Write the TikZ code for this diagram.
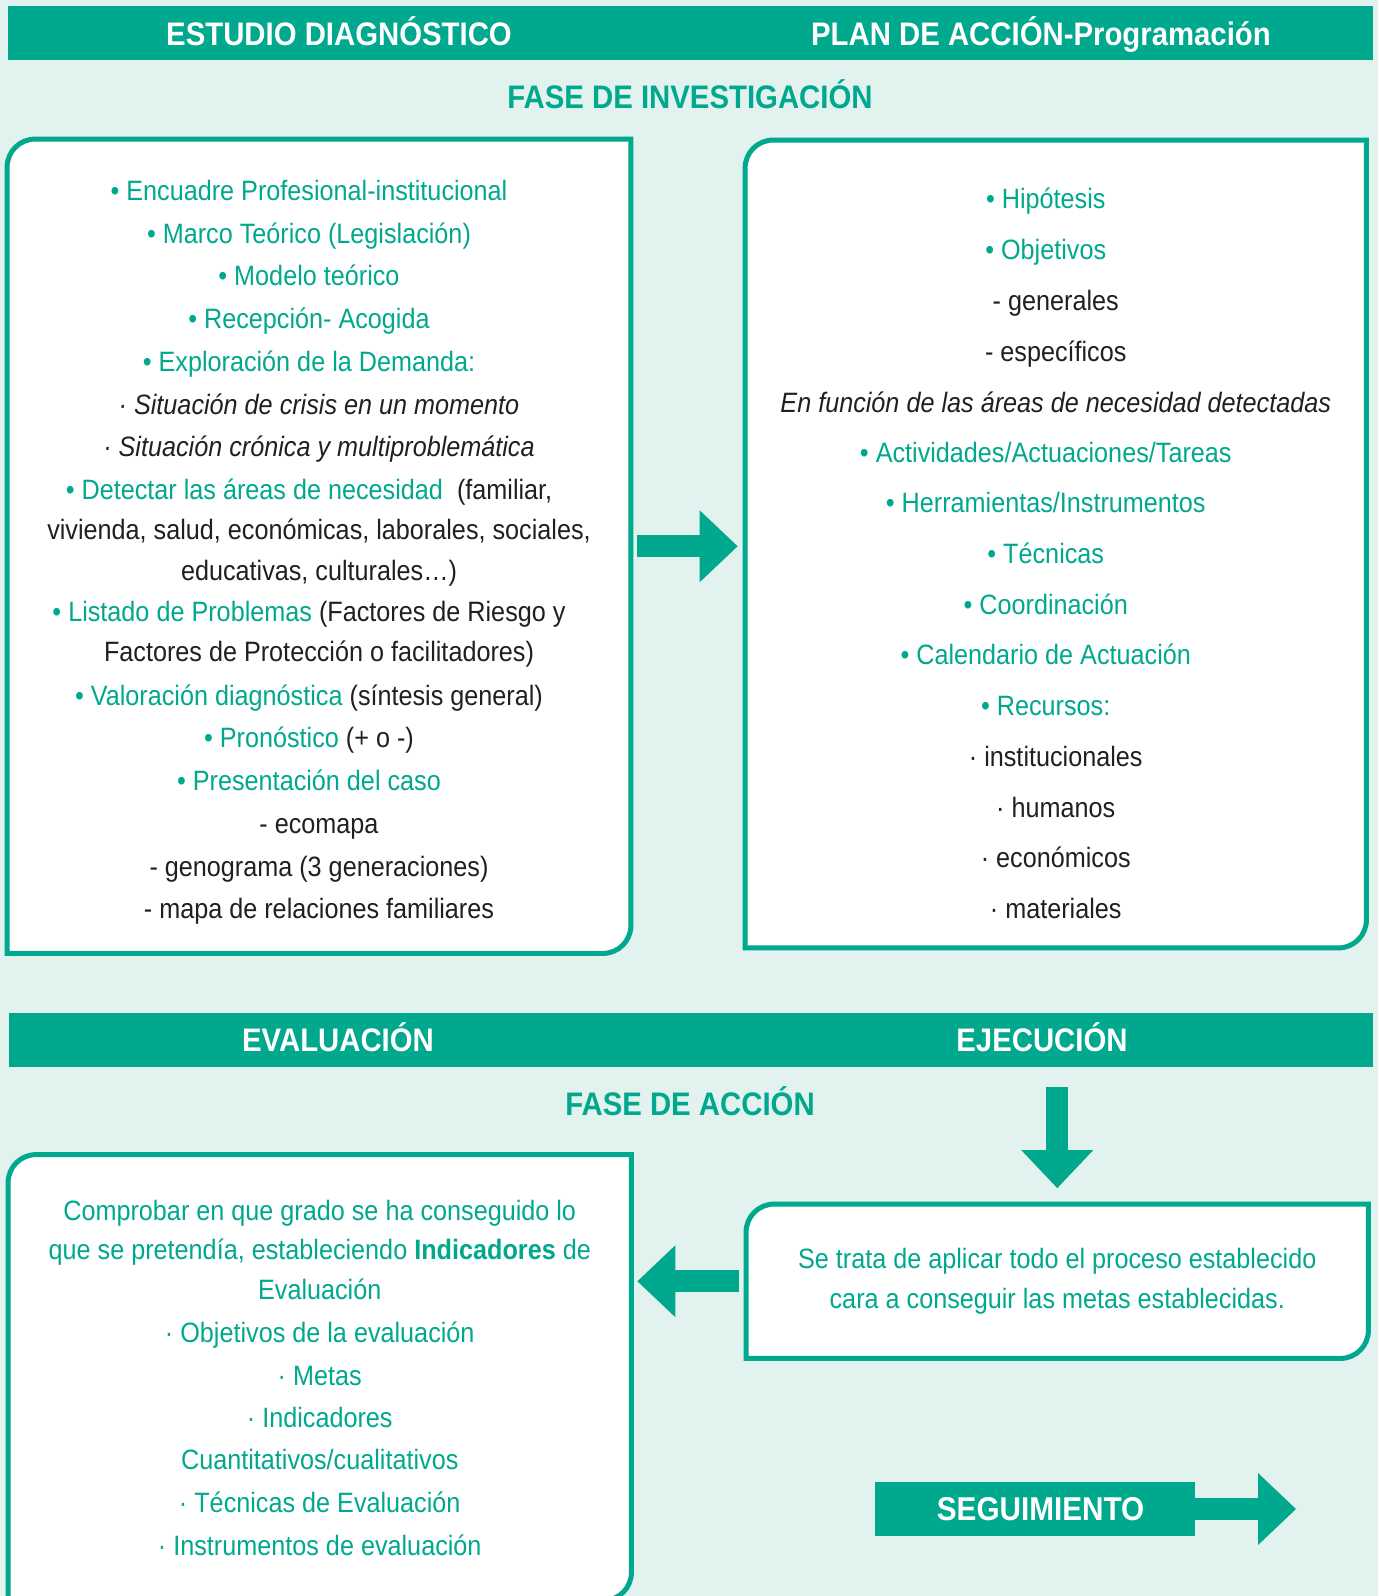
\documentclass[tikz,border=0pt]{standalone}
\usepackage{fontspec}
\setmainfont{Liberation Sans}[FakeStretch=0.9]
\usetikzlibrary{arrows.meta,calc,fit}

\definecolor{verde}{HTML}{00A88E}
\definecolor{fondo}{HTML}{E2F2EE}
\definecolor{tinta}{HTML}{231F20}

\newcommand{\vd}[1]{\textcolor{verde}{#1}}

\tikzset{
  bar/.style={fill=verde, inner sep=0pt},
  bartxt/.style={anchor=base, text=white, font=\fontsize{16.3}{19}\selectfont\bfseries},
  fase/.style={anchor=base, text=verde, font=\fontsize{16.3}{19}\selectfont\bfseries},
  area/.style={inner sep=0pt},
  frame/.style={draw=verde, line width=2.5pt, fill=white},
  txt/.style={anchor=base, inner sep=0pt, text=tinta, font=\fontsize{14}{17}\selectfont},
  bl/.style={xshift=-5pt},
  nb/.style={},
  fatarrow/.style={draw=verde, line width=11pt,
    -{Triangle[length=19pt 0 0, width=36pt 0 0, line width=0pt 0 0]}},
}

% marco con dos esquinas redondeadas
\newcommand{\marco}[1]{%
  \draw[frame] (#1.south west) -- ($(#1.north west)+(0,28)$)
    .. controls ($(#1.north west)+(0,12.5)$) and ($(#1.north west)+(12.5,0)$) .. ($(#1.north west)+(28,0)$)
    -- (#1.north east) -- ($(#1.south east)+(0,-28)$)
    .. controls ($(#1.south east)+(0,-12.5)$) and ($(#1.south east)+(-12.5,0)$) .. ($(#1.south east)+(-28,0)$)
    -- cycle;}

\begin{document}
\begin{tikzpicture}[x=0.5pt,y=-0.5pt]

  \fill[fondo] (0,0) rectangle (1378,1596);
  \useasboundingbox (0,0) rectangle (1378,1596);

  % barras de titulo
  \node[bar, fit={(8,6) (1373,60)}] (barra1) {};
  \node[bartxt] (diag) at (339,45.5) {ESTUDIO DIAGNÓSTICO};
  \node[bartxt] (prog) at (1041,45.5) {PLAN DE ACCIÓN-Programación};
  \node[fase] (fase1) at (690,108.5) {FASE DE INVESTIGACIÓN};

  \node[bar, fit={(9,1013) (1373,1067)}] (barra2) {};
  \node[bartxt] (evaltit) at (338,1051.5) {EVALUACIÓN};
  \node[bartxt] (ejectit) at (1042,1051.5) {EJECUCIÓN};
  \node[fase] (fase2) at (690,1115) {FASE DE ACCIÓN};

  % cajas
  \node[area, fit={(7.5,139.5) (630.5,953)}] (estudio) {};
  \node[area, fit={(745.5,140.5) (1366,947.5)}] (plan) {};
  \node[area, fit={(746.5,1204.5) (1368,1358)}] (ejecucion) {};
  \node[area, fit={(8.5,1155) (631,1600)}] (evaluacion) {};
  \marco{estudio}
  \marco{plan}
  \marco{ejecucion}
  \marco{evaluacion}

  \foreach \y/\s/\linea [count=\i] in {
    200.3/bl/{\vd{• Encuadre Profesional-institucional}},
    243/bl/{\vd{• Marco Teórico (Legislación)}},
    285.8/bl/{\vd{• Modelo teórico}},
    328.5/bl/{\vd{• Recepción- Acogida}},
    371.3/bl/{\vd{• Exploración de la Demanda:}},
    414/nb/{\textit{· Situación de crisis en un momento}},
    456.8/nb/{\textit{· Situación crónica y multiproblemática}},
    499.5/bl/{\vd{• Detectar las áreas de necesidad}\ \ (familiar,},
    539.2/nb/{vivienda, salud, económicas, laborales, sociales,},
    580/nb/{educativas, culturales…)},
    621.6/bl/{\vd{• Listado de Problemas} (Factores de Riesgo y},
    661.3/nb/{Factores de Protección o facilitadores)},
    705/bl/{\vd{• Valoración diagnóstica} (síntesis general)},
    747.8/bl/{\vd{• Pronóstico} (+ o -)},
    790.6/bl/{\vd{• Presentación del caso}},
    833.3/nb/{- ecomapa},
    876/nb/{- genograma (3 generaciones)},
    918.8/nb/{- mapa de relaciones familiares}}
    \node[txt,\s] (est\i) at (estudio.center |- 0,\y) {\linea};

  \foreach \y/\s/\linea [count=\i] in {
    208.5/bl/{\vd{• Hipótesis}},
    259.3/bl/{\vd{• Objetivos}},
    310.2/nb/{- generales},
    361.1/nb/{- específicos},
    412/nb/{\textit{En función de las áreas de necesidad detectadas}},
    462.9/bl/{\vd{• Actividades/Actuaciones/Tareas}},
    512.7/bl/{\vd{• Herramientas/Instrumentos}},
    563.6/bl/{\vd{• Técnicas}},
    614.5/bl/{\vd{• Coordinación}},
    664.4/bl/{\vd{• Calendario de Actuación}},
    715.3/bl/{\vd{• Recursos:}},
    766.2/nb/{· institucionales},
    817/nb/{· humanos},
    867.9/nb/{· económicos},
    918.8/nb/{· materiales}}
    \node[txt,\s] (pl\i) at (plan.center |- 0,\y) {\linea};

  \foreach \y/\linea [count=\i] in {
    1268.5/{Se trata de aplicar todo el proceso establecido},
    1308/{cara a conseguir las metas establecidas.}}
    \node[txt, text=verde] (ej\i) at (ejecucion.center |- 0,\y) {\linea};

  \foreach \y/\linea [count=\i] in {
    1220/{Comprobar en que grado se ha conseguido lo},
    1259.7/{que se pretendía, estableciendo \textbf{Indicadores} de},
    1299.4/{Evaluación},
    1342/{· Objetivos de la evaluación},
    1385/{· Metas},
    1427.6/{· Indicadores},
    1469.4/{Cuantitativos/cualitativos},
    1512/{· Técnicas de Evaluación},
    1555/{· Instrumentos de evaluación}}
    \node[txt, text=verde] (ev\i) at (evaluacion.center |- 0,\y) {\linea};

  % seguimiento
  \node[bar, fit={(875,1482) (1195,1536)}] (seguimiento) {};
  \node[text=white, font=\fontsize{16.5}{19}\selectfont\bfseries, inner sep=0pt,
    xshift=2.8pt] (segtxt) at (seguimiento.center) {SEGUIMIENTO};
  \coordinate (segfin) at (1296,1509);

  % flechas
  \draw[fatarrow] ($(estudio.east)+(6,0)$) -- ($(estudio.east -| plan.west)+(-7.5,0)$);
  \draw[fatarrow] ($(barra2.south -| ejecucion.north)+(0,20)$) -- ($(ejecucion.north)+(0,-16)$);
  \draw[fatarrow] ($(ejecucion.west)+(-7.5,0)$) -- ($(ejecucion.west -| evaluacion.east)+(6,0)$);
  \draw[fatarrow] (seguimiento.east) -- (segfin);

\end{tikzpicture}
\end{document}
